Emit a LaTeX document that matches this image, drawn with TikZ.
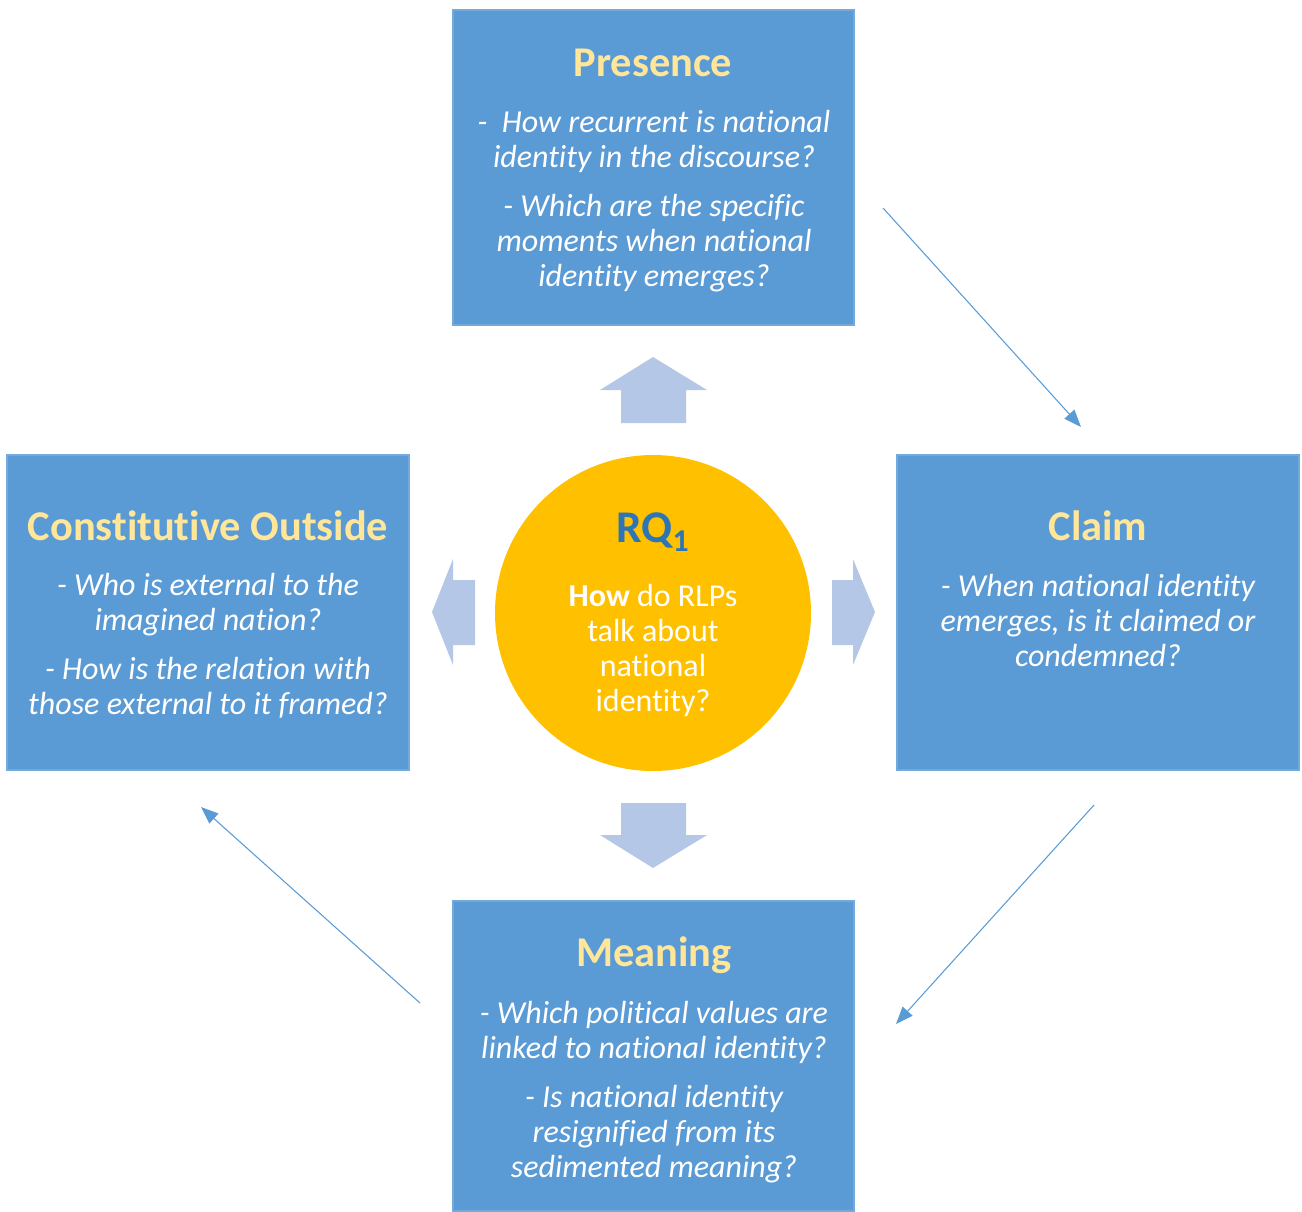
\documentclass[tikz,border=0pt]{standalone}
\usepackage{fontspec}
\setmainfont[Ligatures=NoCommon]{Carlito}
\usetikzlibrary{arrows.meta}
\definecolor{boxblue}{HTML}{5B9BD5}
\definecolor{titleyellow}{HTML}{FFE699}
\definecolor{coregold}{HTML}{FFC000}
\definecolor{rqblue}{HTML}{2E75B6}
\definecolor{paleblue}{HTML}{B4C7E7}
\begin{document}
\begin{tikzpicture}[x=0.75pt,y=-0.75pt,
  panel/.style={fill=boxblue,draw=boxblue!85!white,line width=0.8pt},
  heading/.style={text=titleyellow,font=\fontsize{31.8}{36}\selectfont\bfseries,inner sep=0pt},
  question/.style={text=white,align=center,inner sep=0pt,
    font=\fontsize{24}{26.25}\selectfont\itshape},
  core/.style={circle,fill=coregold,minimum size=237pt,inner sep=0pt},
  corebody/.style={text=white,align=center,inner sep=0pt,
    font=\fontsize{24}{26.25}\selectfont},
  blockarrow/.style={fill=paleblue,draw=none},
  cycle/.style={draw=boxblue,line width=0.8pt,
    -{Triangle[length=13pt,width=10pt]}}]

\useasboundingbox (0,0) rectangle (1302,1211);

% four panels
\fill[panel] (453,10) rectangle (854,325);
\fill[panel] (7,455) rectangle (409,770);
\fill[panel] (897,455) rectangle (1299,770);
\fill[panel] (453,901) rectangle (854,1211);

% central circle
\node[core] (rq) at (653,613) {};
\node[text=rqblue,font=\fontsize{34}{40}\selectfont\bfseries,inner sep=0pt]
  (rqlabel) at (653,532) {RQ\textsubscript{1}};
\node[corebody] (rqtext) at (653,650) {\textbf{How} do RLPs\\talk about\\national\\identity?};

% panel titles
\node[heading] (presence) at (653,63) {Presence};
\node[heading] (outside) at (208,526) {Constitutive Outside};
\node[heading] (claim) at (1098,526) {Claim};
\node[heading] (meaning) at (654,955) {Meaning};

% panel questions
\node[question] (presenceq) at (654,201)
  {-~ How recurrent is national\\identity in the discourse?\\[10.5pt]
   - Which are the specific\\moments when national\\identity emerges?};
\node[question] (outsideq) at (208,646)
  {- Who is external to the\\imagined nation?\\[10.5pt]
   - How is the relation with\\those external to it framed?};
\node[question] (claimq) at (1098,620)
  {- When national identity\\emerges, is it claimed or\\condemned?};
\node[question] (meaningq) at (654,1092)
  {- Which political values are\\linked to national identity?\\[10.5pt]
   - Is national identity\\resignified from its\\sedimented meaning?};

% block arrows pointing out of the circle
\fill[blockarrow] (621,423) -- (621,390) -- (600,390) -- (653,357)
  -- (707,390) -- (686,390) -- (686,423) -- cycle;
\fill[blockarrow] (621,803) -- (621,835) -- (600,835) -- (653,868)
  -- (707,835) -- (686,835) -- (686,803) -- cycle;
\fill[blockarrow] (475,580) -- (453,580) -- (453,559) -- (432,612)
  -- (453,665) -- (453,645) -- (475,645) -- cycle;
\fill[blockarrow] (832,580) -- (853,580) -- (853,559) -- (875,612)
  -- (853,665) -- (853,645) -- (832,645) -- cycle;

% clockwise cycle between the panels
\coordinate (c1) at (883,208);
\coordinate (c2) at (1081,427);
\coordinate (c3) at (1094,805);
\coordinate (c4) at (896,1024);
\coordinate (c5) at (420,1003);
\coordinate (c6) at (201,807);
\draw[cycle] (c1) -- (c2);
\draw[cycle] (c3) -- (c4);
\draw[cycle] (c5) -- (c6);
\end{tikzpicture}
\end{document}
